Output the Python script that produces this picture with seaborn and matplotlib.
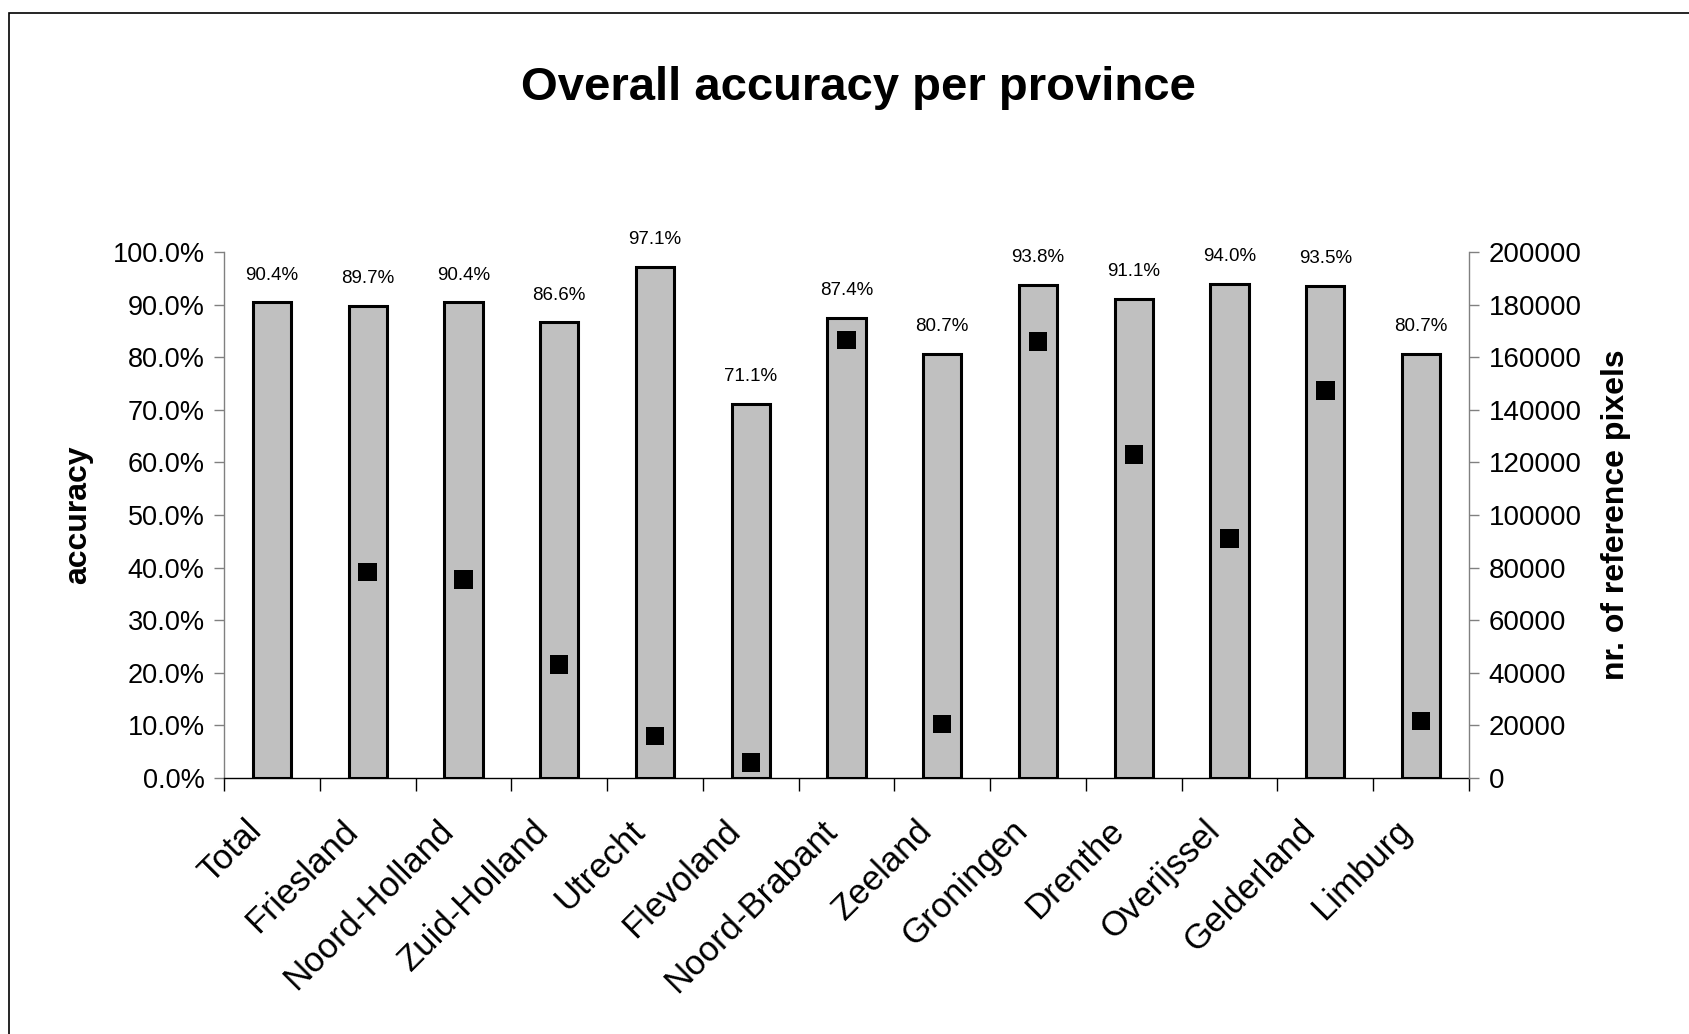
import numpy as np
import pandas as pd
import matplotlib
matplotlib.use("Agg")
import matplotlib.pyplot as plt
from matplotlib.patches import Rectangle
from matplotlib.ticker import PercentFormatter, MultipleLocator, FixedLocator, FuncFormatter
import seaborn as sns

# Accuracy per province (fraction) and number of reference pixels
provinces = ["Total", "Friesland", "Noord-Holland", "Zuid-Holland", "Utrecht",
             "Flevoland", "Noord-Brabant", "Zeeland", "Groningen", "Drenthe",
             "Overijssel", "Gelderland", "Limburg"]
accuracy = [0.904, 0.897, 0.904, 0.866, 0.971, 0.711, 0.874, 0.807,
            0.938, 0.911, 0.940, 0.935, 0.807]
ref_pixels = [np.nan, 78400, 75500, 43200, 15900, 5900, 166600, 20600,
              166000, 123000, 91000, 147300, 21700]

df = pd.DataFrame({"province": provinces, "accuracy": accuracy,
                   "pixels": ref_pixels})
df["pos"] = np.arange(len(df))

sns.set_theme(style="white")
plt.rcParams["font.family"] = ["Liberation Sans", "DejaVu Sans"]
plt.rcParams.update({"text.color": "black", "axes.labelcolor": "black",
                     "xtick.color": "black", "ytick.color": "black"})

W, H = 1690, 1034
fig = plt.figure(figsize=(W / 100, H / 100), dpi=100)
ax = fig.add_axes([224 / W, 1 - 778 / H, (1469 - 224) / W, (778 - 252) / H])

sns.barplot(data=df, x="province", y="accuracy", order=provinces,
            color="#C0C0C0", saturation=1, width=0.4,
            edgecolor="black", linewidth=2.2, ax=ax)

ax2 = ax.twinx()
sns.scatterplot(data=df.dropna(), x="pos", y="pixels", marker="s", s=175,
                color="black", edgecolor="none", ax=ax2, legend=False)

ax.set_xlim(-0.5, len(provinces) - 0.5)
ax.set_ylim(0, 1.0)
ax2.set_ylim(0, 200000)

# value labels above the bars
for i, v in enumerate(accuracy):
    ax.annotate(f"{v * 100:.1f}%", (i, v), xytext=(0, 16.5),
                textcoords="offset points", ha="center", va="baseline",
                fontsize=13.5, color="black")

# left axis
ax.yaxis.set_major_locator(MultipleLocator(0.1))
ax.yaxis.set_major_formatter(PercentFormatter(1.0, decimals=1))
ax.tick_params(axis="y", which="major", direction="out", length=7, width=1,
               color="#808080", labelcolor="black", labelsize=19.5, pad=7,
               left=True)
ax.set_ylabel("accuracy", fontsize=23, fontweight="bold", labelpad=14)

# right axis
ax2.yaxis.set_major_locator(MultipleLocator(20000))
ax2.yaxis.set_major_formatter(FuncFormatter(lambda v, p: f"{int(v)}"))
ax2.tick_params(axis="y", which="major", direction="out", length=7, width=1,
                color="#808080", labelcolor="black", labelsize=20, pad=7,
                right=True)
ax2.set_ylabel("nr. of reference pixels", fontsize=23, fontweight="bold",
               labelpad=14)

# x axis: ticks between categories; slanted labels hang just left of
# each category centre
label_shift = 0.28
ax.set_xticks(np.arange(-0.5, len(provinces), 1.0))
ax.set_xticklabels([])
ax.tick_params(axis="x", which="major", direction="out", length=9, width=1,
               color="black", bottom=True)
ax.xaxis.set_minor_locator(FixedLocator(np.arange(len(provinces)) - label_shift))
ax.set_xticklabels(provinces, minor=True, rotation=45, ha="right",
                   va="top", rotation_mode="anchor", fontsize=25)
ax.tick_params(axis="x", which="minor", length=0, pad=26)
ax.set_xlabel("")
ax2.set_xlabel("")

for a in (ax, ax2):
    a.spines["top"].set_visible(False)
    a.grid(False)
ax.spines["right"].set_visible(False)
ax2.spines["bottom"].set_visible(False)
ax2.spines["left"].set_visible(False)
ax.spines["left"].set_color("#808080")
ax.spines["left"].set_linewidth(1)
ax2.spines["right"].set_color("#808080")
ax2.spines["right"].set_linewidth(1)
ax.spines["bottom"].set_color("black")
ax.spines["bottom"].set_linewidth(1)

fig.text(858 / W, 1 - 88 / H, "Overall accuracy per province",
         ha="center", va="center", fontsize=34, fontweight="bold")

# chart area frame
fig.patches.append(Rectangle((9 / W, -0.05), 1.2, 1 - 13 / H + 0.05,
                             transform=fig.transFigure, fill=False,
                             edgecolor="black", linewidth=1.2))

fig.savefig("out.png", dpi=100)
